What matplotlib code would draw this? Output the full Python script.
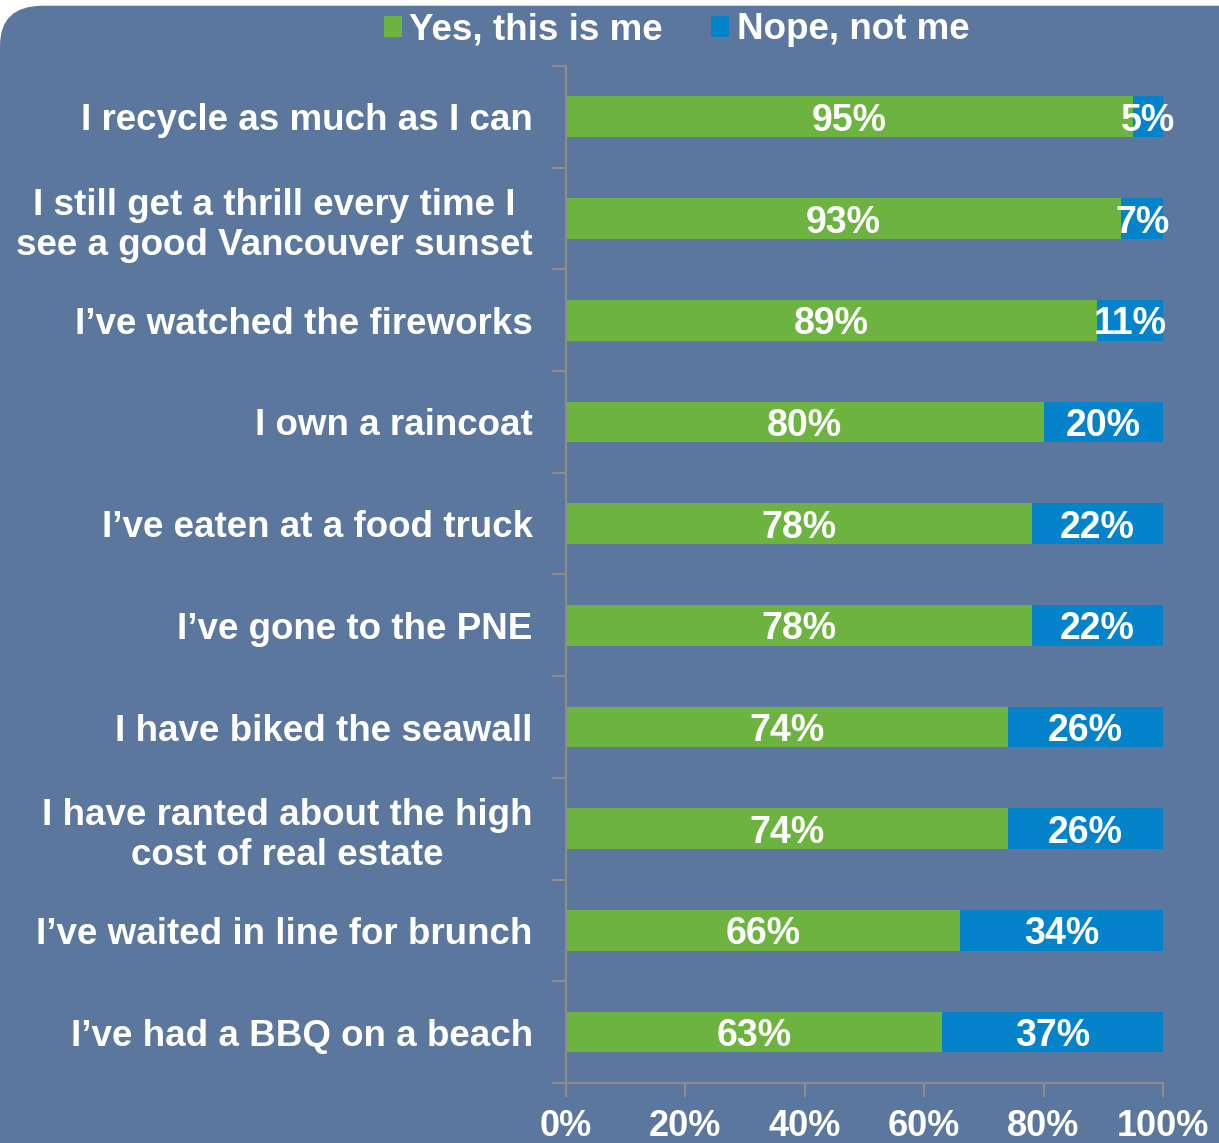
import numpy as np
import matplotlib.pyplot as plt
from matplotlib.patches import FancyBboxPatch
from matplotlib.ticker import FixedLocator

### Data ############################################
categories = [
    "I recycle as much as I can",
    "I still get a thrill every time I\nsee a good Vancouver sunset",
    "I\u2019ve watched the fireworks",
    "I own a raincoat",
    "I\u2019ve eaten at a food truck",
    "I\u2019ve gone to the PNE",
    "I have biked the seawall",
    "I have ranted about the high\ncost of real estate",
    "I\u2019ve waited in line for brunch",
    "I\u2019ve had a BBQ on a beach",
]
yes_vals = [95, 93, 89, 80, 78, 78, 74, 74, 66, 63]
no_vals = [5, 7, 11, 20, 22, 22, 26, 26, 34, 37]
series_names = ["Yes, this is me", "Nope, not me"]
xticks = [0, 20, 40, 60, 80, 100]
#####################################################

bg = "#5B779E"
green = "#6DB33F"
blue = "#0483CB"
grid_gray = "#8C8C8C"

plt.rcParams['font.family'] = ['Liberation Sans', 'DejaVu Sans']

fig = plt.figure(figsize=(12.19, 11.43), dpi=100)
fig.patch.set_facecolor("white")
fig.patches.append(FancyBboxPatch((0.0, -0.1), 1.1, 1.095, boxstyle="round,pad=0,rounding_size=0.035",
                                  transform=fig.transFigure, facecolor=bg, edgecolor="none", zorder=-5))

ax = fig.add_axes([0.4643, 0.0525, 0.4897, 0.8898])
ax.set_facecolor("none")
ax.set_zorder(2)

n = len(categories)
y = np.arange(n)
yes_arr = np.array(yes_vals, dtype=float)
no_arr = np.array(no_vals, dtype=float)
yes_arr_scaled = yes_arr / (yes_arr + no_arr) * 100
no_arr_scaled = no_arr / (yes_arr + no_arr) * 100

b1 = ax.barh(y, yes_arr_scaled, height=0.4, color=green, label=series_names[0])
b2 = ax.barh(y, no_arr_scaled, left=yes_arr_scaled, height=0.4, color=blue, label=series_names[1])

for i in range(n):
    ax.text(yes_arr_scaled[i] / 2, y[i], f"{yes_vals[i]}%", ha="center", va="center_baseline",
            color="white", fontsize=27, fontweight="bold")
    ax.text(yes_arr_scaled[i] + no_arr_scaled[i] / 2, y[i], f"{no_vals[i]}%", ha="center",
            va="center_baseline", color="white", fontsize=27, fontweight="bold")

ax.set_xlim(0, 100)
ax.set_ylim(n - 0.5, -0.5)
ax.set_xticks(xticks)
ax.set_xticklabels([f"{t}%" for t in xticks])
ax.yaxis.set_major_locator(FixedLocator(np.arange(-0.5, n, 1.0)))
ax.yaxis.set_major_formatter(plt.NullFormatter())
ax.yaxis.set_minor_locator(FixedLocator(y))
ax.set_yticklabels(categories, minor=True)

ax.tick_params(axis="y", which="major", length=10, color=grid_gray, width=1.5, direction="out")
ax.tick_params(axis="y", which="minor", length=0, pad=24, labelsize=26.5, labelcolor="white")
ax.tick_params(axis="x", length=10, color=grid_gray, width=1.5, direction="out", pad=9,
               labelsize=26, labelcolor="white")
for lab in ax.get_yticklabels(minor=True):
    lab.set_fontweight("bold")
    lab.set_multialignment("center")
    lab.set_linespacing(1.2)
for lab in ax.get_xticklabels():
    lab.set_fontweight("bold")
    lab.set_family(['Liberation Sans Narrow', 'Liberation Sans', 'DejaVu Sans'])

for s in ["top", "right"]:
    ax.spines[s].set_visible(False)
for s in ["left", "bottom"]:
    ax.spines[s].set_color(grid_gray)
    ax.spines[s].set_linewidth(1.5)

leg = fig.legend(handles=[b1, b2], loc="center", bbox_to_anchor=(0.555, 0.974), ncol=2, frameon=False,
                 handlelength=0.5, handleheight=0.5, handletextpad=0.2, columnspacing=1.3,
                 labelcolor="white", prop={'weight': 'bold', 'size': 26.5})

fig.savefig("out.png", dpi=100, facecolor=fig.get_facecolor())
